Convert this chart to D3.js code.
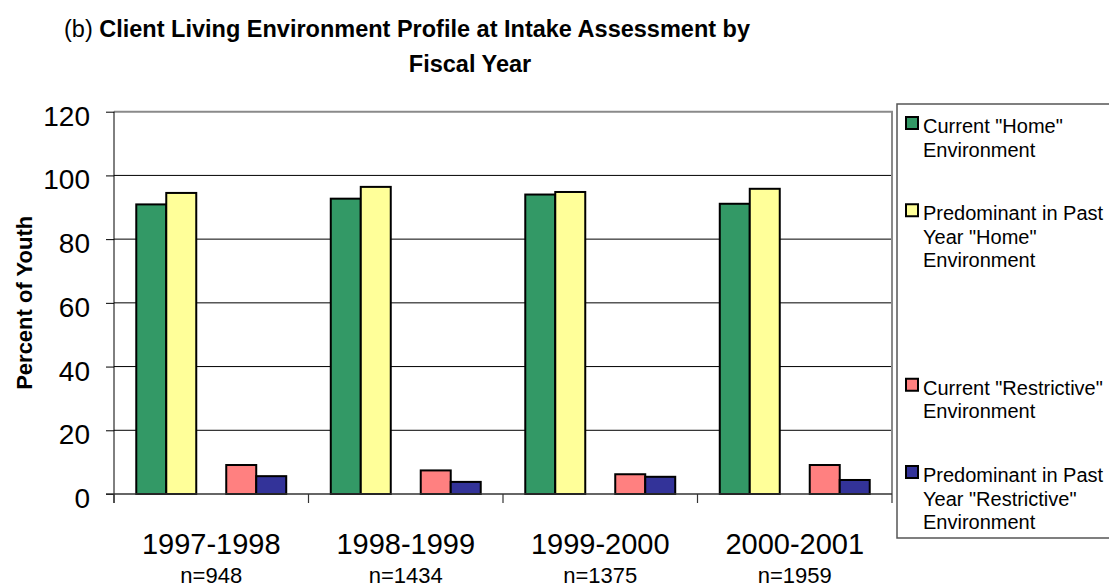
<!DOCTYPE html>
<html>
<head>
<meta charset="utf-8">
<script src="https://cdn.jsdelivr.net/npm/d3@7"></script>
<style>
  body { margin: 0; background: #fff; }
  svg { display: block; font-family: "Liberation Sans", Arial, sans-serif; }
</style>
</head>
<body>
<div id="chart-area"></div>
<script>
// data
var categories = ["1997-1998", "1998-1999", "1999-2000", "2000-2001"];
var sampleSizes = ["n=948", "n=1434", "n=1375", "n=1959"];

var currentHome = [90.9, 92.7, 94.0, 91.1];
var pastHome = [94.5, 96.4, 94.8, 95.8];
var currentRestrictive = [9.1, 7.4, 6.2, 9.1];
var pastRestrictive = [5.6, 3.8, 5.4, 4.4];

var seriesNames = [
  ["Current \"Home\"", "Environment"],
  ["Predominant in Past", "Year \"Home\"", "Environment"],
  ["Current \"Restrictive\"", "Environment"],
  ["Predominant in Past", "Year \"Restrictive\"", "Environment"]
];
var seriesColors = ["#339966", "#FFFF99", "#FF8080", "#333399"];
// the source chart leaves an empty slot between the two pairs
var seriesSlots = [0, 1, 3, 4];

var yTicks = [0, 20, 40, 60, 80, 100, 120];

var series = [currentHome, pastHome, currentRestrictive, pastRestrictive].map(function(vals, i) {
  return { name: seriesNames[i], color: seriesColors[i], slot: seriesSlots[i], values: vals };
});

var W = 1109, H = 588;
var margin = { left: 114, right: 217, top: 111.7, bottom: 94 };
var width = W - margin.left - margin.right,
    height = H - margin.top - margin.bottom;

var svg = d3.select("#chart-area")
  .append("svg")
    .attr("width", W)
    .attr("height", H);

var g = svg.append("g")
  .attr("transform", "translate(" + margin.left + "," + margin.top + ")");

// X scales
var x0 = d3.scaleBand()
  .domain(categories)
  .range([0, width])
  .paddingInner(0.229)
  .paddingOuter(0.1145);

var x1 = d3.scaleBand()
  .domain(d3.range(5))
  .range([0, x0.bandwidth()]);

// Y scale
var y = d3.scaleLinear()
  .domain([0, 120])
  .range([height, 0]);

// gridlines
g.append("g")
  .selectAll("line")
  .data(yTicks.filter(function(d) { return d > 0 && d < 120; }))
  .enter().append("line")
    .attr("x1", 0)
    .attr("x2", width)
    .attr("y1", function(d) { return y(d); })
    .attr("y2", function(d) { return y(d); })
    .attr("stroke", "#000")
    .attr("stroke-width", 1);

// plot border top/right (gray)
g.append("path")
  .attr("d", "M0," + y(120) + "H" + width + "V" + y(0))
  .attr("fill", "none")
  .attr("stroke", "#8a8a8a")
  .attr("stroke-width", 2);

// Y Axis
var yAxis = g.append("g")
  .attr("class", "y axis")
  .call(d3.axisLeft(y).tickValues(yTicks).tickSize(8).tickSizeOuter(0).tickPadding(16));
yAxis.select(".domain").remove();
yAxis.selectAll("line").attr("stroke", "#000");
yAxis.selectAll("text")
  .attr("font-size", "28px")
  .attr("font-family", "Liberation Sans, Arial, sans-serif")
  .attr("fill", "#000")
  .attr("dy", "0.48em");

// y axis line (runs down past the x axis like the ticks)
g.append("line")
  .attr("x1", 0).attr("x2", 0)
  .attr("y1", y(120)).attr("y2", y(0) + 9)
  .attr("stroke", "#000");

// Bars
var groups = g.selectAll(".cat")
  .data(categories)
  .enter().append("g")
    .attr("class", "cat")
    .attr("transform", function(d) { return "translate(" + x0(d) + ",0)"; });

groups.selectAll("rect")
  .data(function(d, i) {
    return series.map(function(s) { return { slot: s.slot, color: s.color, value: s.values[i] }; });
  })
  .enter().append("rect")
    .attr("x", function(d) { return x1(d.slot); })
    .attr("y", function(d) { return y(d.value); })
    .attr("width", x1.bandwidth())
    .attr("height", function(d) { return height - y(d.value); })
    .attr("fill", function(d) { return d.color; })
    .attr("stroke", "#000")
    .attr("stroke-width", 2);

// X axis line and boundary ticks
g.append("line")
  .attr("x1", -8).attr("x2", width)
  .attr("y1", height).attr("y2", height)
  .attr("stroke", "#333")
  .attr("stroke-width", 1.5);

var gap = (x0.step() - x0.bandwidth()) / 2;
var bounds = categories.map(function(c) { return x0(c) - gap; }).concat([width]);
g.append("g")
  .selectAll("line")
  .data(bounds)
  .enter().append("line")
    .attr("x1", function(d) { return d; })
    .attr("x2", function(d) { return d; })
    .attr("y1", height)
    .attr("y2", height + 9)
    .attr("stroke", "#333")
    .attr("stroke-width", 1.2);

// X labels
g.selectAll(".xlab")
  .data(categories)
  .enter().append("text")
    .attr("class", "xlab")
    .attr("x", function(d) { return x0(d) + x0.bandwidth() / 2; })
    .attr("y", height + 60)
    .attr("text-anchor", "middle")
    .attr("font-size", "29px")
    .text(function(d) { return d; });

g.selectAll(".nlab")
  .data(sampleSizes)
  .enter().append("text")
    .attr("class", "nlab")
    .attr("x", function(d, i) { return x0(categories[i]) + x0.bandwidth() / 2; })
    .attr("y", height + 89)
    .attr("text-anchor", "middle")
    .attr("font-size", "22px")
    .text(function(d) { return d; });

// Y Label
svg.append("text")
  .attr("transform", "translate(32," + (margin.top + height / 2) + ") rotate(-90)")
  .attr("text-anchor", "middle")
  .attr("font-size", "22px")
  .attr("font-weight", "bold")
  .text("Percent of Youth");

// Title
var t1 = svg.append("text")
  .attr("x", 64)
  .attr("y", 37)
  .attr("font-size", "23.5px");
t1.append("tspan").text("(b) ");
t1.append("tspan").attr("font-weight", "bold")
  .text("Client Living Environment Profile at Intake Assessment by");

svg.append("text")
  .attr("x", 470)
  .attr("y", 72)
  .attr("text-anchor", "middle")
  .attr("font-size", "23.5px")
  .attr("font-weight", "bold")
  .text("Fiscal Year");

// Legend
var legend = svg.append("g")
  .attr("transform", "translate(897,104)");

legend.append("rect")
  .attr("x", 0).attr("y", 0)
  .attr("width", 240).attr("height", 434)
  .attr("fill", "#fff")
  .attr("stroke", "#555")
  .attr("stroke-width", 1.5);

var slotY = d3.scaleLinear().domain([0, 4]).range([12, 361]);

var items = legend.selectAll(".item")
  .data(series)
  .enter().append("g")
    .attr("class", "item")
    .attr("transform", function(d) { return "translate(8," + slotY(d.slot) + ")"; });

items.append("rect")
  .attr("x", 1).attr("y", 1)
  .attr("width", 12).attr("height", 12)
  .attr("fill", function(d) { return d.color; })
  .attr("stroke", "#000")
  .attr("stroke-width", 2);

items.each(function(d) {
  var txt = d3.select(this).append("text")
    .attr("x", 18)
    .attr("y", 17)
    .attr("font-size", "20px");
  d.name.forEach(function(line, k) {
    txt.append("tspan")
      .attr("x", 18)
      .attr("dy", k === 0 ? 0 : 23.6)
      .text(line);
  });
});
</script>
</body>
</html>
